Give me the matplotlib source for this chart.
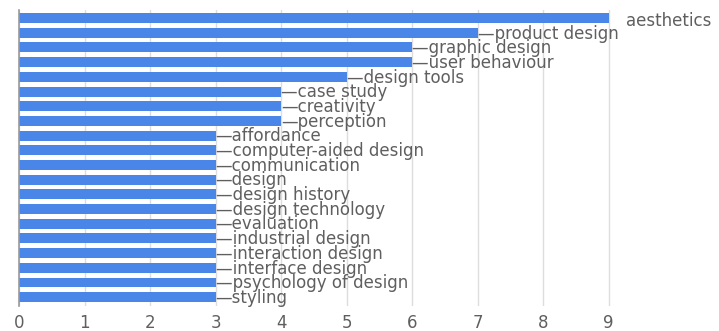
import matplotlib
matplotlib.use("Agg")
import matplotlib.pyplot as plt

categories = ["aesthetics", "product design", "graphic design", "user behaviour",
              "design tools", "case study", "creativity", "perception", "affordance",
              "computer-aided design", "communication", "design", "design history",
              "design technology", "evaluation", "industrial design", "interaction design",
              "interface design", "psychology of design", "styling"]
values = [9, 7, 6, 6, 5, 4, 4, 4, 3, 3, 3, 3, 3, 3, 3, 3, 3, 3, 3, 3]
xticks = list(range(0, 10))

BAR = "#4a86e8"
TXT = "#5f5f5f"
FS = 12

fig = plt.figure(figsize=(7.19, 3.31), dpi=100)
ax = fig.add_axes([19/719, 25/331, (707-19)/719, (321-25)/331])

y = list(range(len(categories)))
ax.barh(y, values, height=0.68, color=BAR, zorder=2)
ax.set_ylim(19.6, -0.55)
ax.set_xlim(0, 10.5)

for i, (c, v) in enumerate(zip(categories, values)):
    if i == 0:
        ax.text(9.27, i + 0.2, c, ha="left", va="center", fontsize=FS,
                color=TXT, family="DejaVu Sans", zorder=3)
    else:
        ax.text(v, i + 0.05, "\u2014" + c, ha="left", va="center", fontsize=FS,
                color=TXT, family="DejaVu Sans", zorder=3)

ax.set_xticks(xticks)
ax.set_xticklabels([str(t) for t in xticks], fontsize=FS, color=TXT, family="DejaVu Sans")
ax.tick_params(axis="x", length=0, pad=5.5)
ax.set_yticks([])
ax.grid(axis="x", color="#dddddd", linewidth=1, zorder=0)
for s in ["top", "right", "bottom"]:
    ax.spines[s].set_visible(False)
ax.spines["left"].set_color("#999999")
ax.spines["left"].set_linewidth(1.2)
ax.spines["left"].set_zorder(4)

fig.savefig("out.png", dpi=100)
